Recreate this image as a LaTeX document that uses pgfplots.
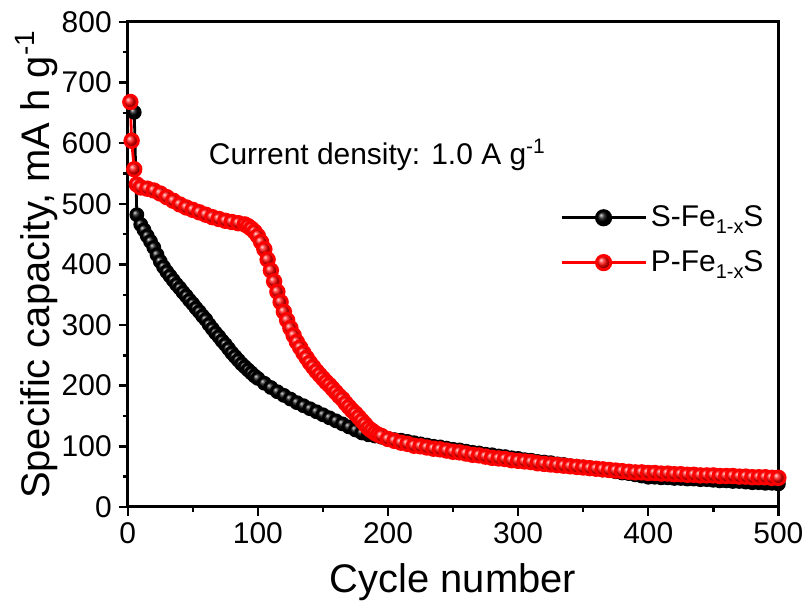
\documentclass[border=0pt]{standalone}
\usepackage{fontspec}
\setmainfont{Liberation Sans}
\usepackage{pgfplots}
\pgfplotsset{compat=1.18}
\usetikzlibrary{calc}
\newcommand{\sub}[1]{\raisebox{-0.45ex}{\fontsize{10}{12}\selectfont #1}}
\begin{document}
\begin{tikzpicture}
\begin{axis}[
  name=ax,
  scale only axis,
  width=326pt, height=243pt,
  xmin=0, xmax=500, ymin=0, ymax=800,
  xtick={0,100,...,500}, ytick={0,100,...,800},
  minor x tick num=1, minor y tick num=1,
  tick align=outside,
  xtick pos=bottom, ytick pos=left,
  major tick length=4.5pt, minor tick length=2.5pt,
  every tick/.style={line width=1.2pt, black},
  axis line style={line width=1.5pt},
  /pgf/number format/assume math mode=true,
  ticklabel style={font=\fontsize{15}{18}\selectfont},
  xlabel={Cycle number},
  ylabel={Specific capacity, mA h g\textsuperscript{-1}},
  label style={font=\fontsize{20}{24}\selectfont},
  ylabel shift=-5pt,
  xlabel shift=3pt,
  legend style={draw=none, fill=none, at={(0.655,0.55)}, anchor=west,
    font=\fontsize{15}{18}\selectfont, row sep=6.5pt},
  legend cell align=left,
  legend image code/.code={\draw[mark repeat=2,mark phase=2,#1, mark size=3.6pt] plot coordinates {(0pt,0pt) (21pt,0pt) (42pt,0pt)};},
]
\addplot[black, line width=1.4pt, mark=ball, mark size=3pt, mark options={ball color=black}] coordinates {
(5,651)(7,482)(10,466)(12.5,457)(15,447)(17.5,438)(20,428)(22.5,416)(25,405)(27.5,396)(30,388)(32.5,381)(35,374)(37.5,367)(40,361)(42.5,354)(45,348)(47.5,341)
(50,335)(52.5,328)(55,322)(57.5,315)(60,309)(62.5,301)(65,294)(67.5,287)(70,281)(72.5,274)(75,268)(77.5,261)(80,254)(82.5,248)(85,242)(87.5,236)(90,231)(92.5,226)(95,221)(97.5,216)
(100,212)(105,204)(110,197)(115,190)(120,184)(125,178)(130,172)(135,167)(140,162)(145,157)
(150,152)(155,147)(160,142)(165,137)(170,132)(175,127)(180,122)(185,119)(190,117)(195,115)
(200,113)(205,111)(210,110)(215,108)(220,106)(225,104)(230,102)(235,100)(240,99)(245,97)
(250,95)(255,94)(260,92)(265,90)(270,89)(275,87)(280,86)(285,84)(290,83)(295,81)
(300,80)(305,78)(310,77)(315,75)(320,74)(325,73)(330,71)(335,70)(340,68)(345,67)
(350,66)(355,64)(360,63)(365,61)(370,60)(375,58)(380,56)(385,55)(390,53)(395,51)
(400,49)(405,49)(410,48)(415,48)(420,47)(425,47)(430,46)(435,46)(440,45)(445,45)
(450,44)(455,43)(460,43)(465,42)(470,42)(475,41)(480,40)(485,40)(490,39)(495,39)(500,38)
};
\addlegendentry{S-Fe\sub{1-x}S}
\addplot[red, line width=1.4pt, mark=ball, mark size=3.4pt, mark options={ball color=red}] coordinates {
(2,668)(3,604)(5,557)(7,532)(10,527)(15,525)(20,522)(25,517)(30,511)(35,505)
(40,499)(45,494)(50,490)(55,486)(60,482)(65,478)(70,475)(75,472)(80,470)(85,468)
(90,466)(92.5,463)(95,459)(97.5,454)(100,447)(102.5,437)(105,425)(107.5,408)(110,390)(112.5,372)(115,355)(117.5,338)(120,322)(122.5,308)(125,295)(127.5,283)(130,272)(132.5,263)(135,254)(137.5,246)
(140,238)(142.5,231)(145,224)(147.5,218)(150,212)(152.5,206)(155,201)(157.5,195)(160,189)(162.5,183)(165,178)(167.5,171)(170,165)(172.5,159)(175,154)(177.5,148)(180,142)(182.5,136)(185,130)(187.5,126)
(190,122)(192.5,119)(195,117)(200,112)(205,109)(210,106)(215,104)(220,101)(225,100)(230,98)(235,96)
(240,95)(245,93)(250,91)(255,90)(260,88)(265,86)(270,85)(275,83)(280,81)(285,80)
(290,79)(295,77)(300,76)(305,75)(310,74)(315,72)(320,71)(325,70)(330,69)(335,68)
(340,67)(345,66)(350,65)(355,64)(360,63)(365,62)(370,61)(375,60)(380,59)(385,58)
(390,57)(395,57)(400,56)(405,56)(410,55)(415,55)(420,54)(425,54)(430,53)(435,53)
(440,52)(445,52)(450,52)(455,51)(460,51)(465,51)(470,50)(475,50)(480,49)(485,49)(490,49)(495,48)(500,48)
};
\addlegendentry{P-Fe\sub{1-x}S}
\node[anchor=west, font=\fontsize{15}{18}\selectfont] at (axis cs:57,581) {Current density: 1.0 A g\textsuperscript{-1}};
\end{axis}
\path ($(ax.south west)+(-64pt,-50pt)$) rectangle ($(ax.north east)+(15pt,11pt)$);
\end{tikzpicture}
\end{document}
